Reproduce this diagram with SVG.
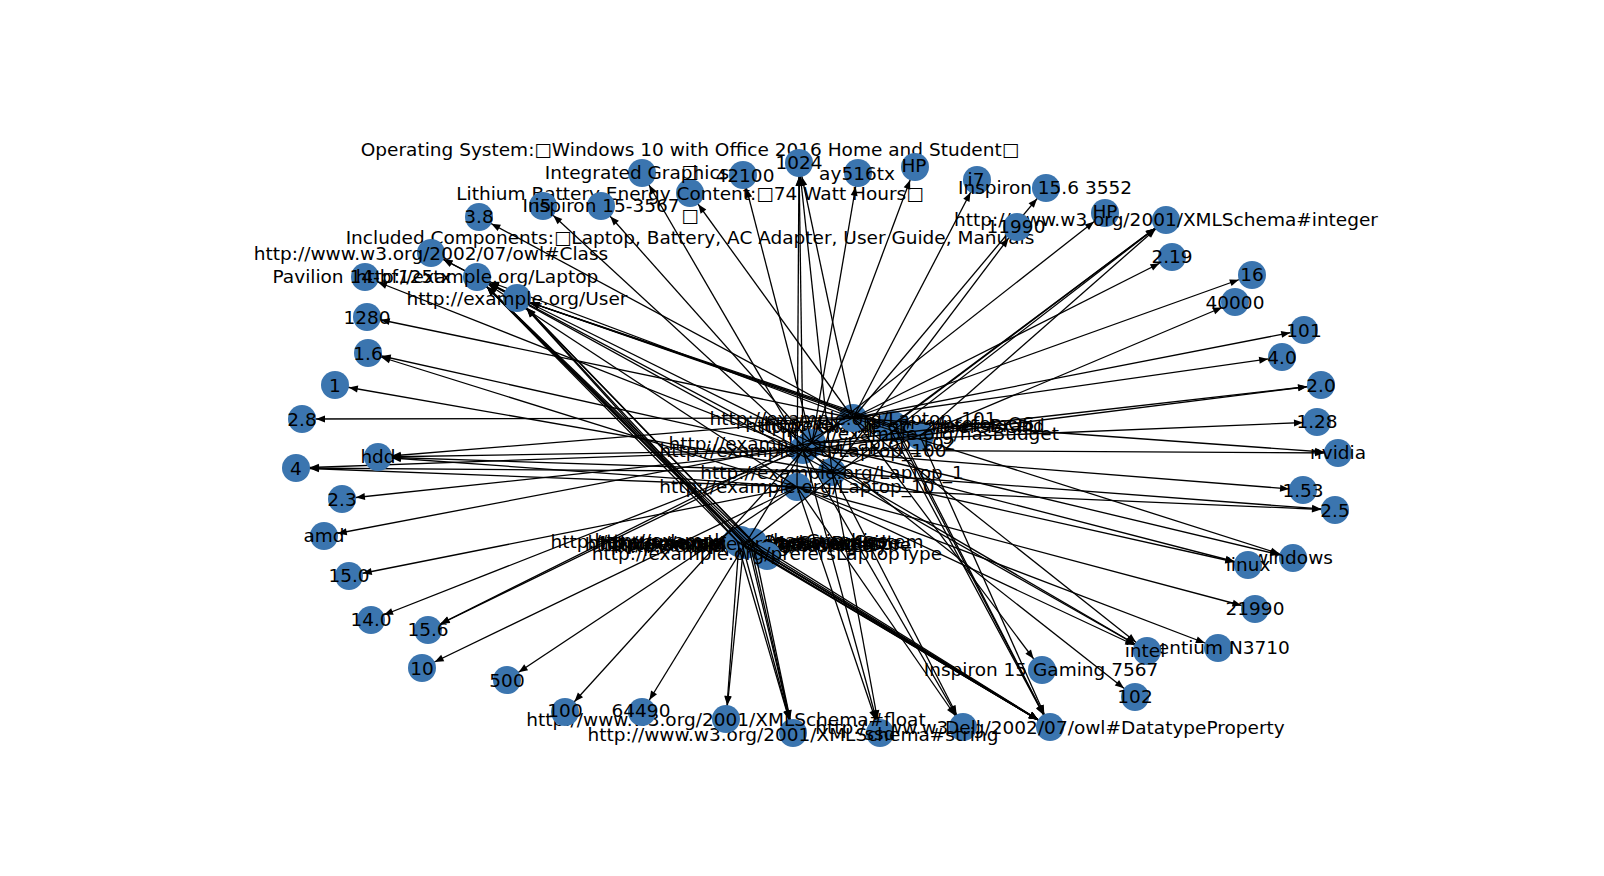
<svg xmlns="http://www.w3.org/2000/svg" xmlns:xlink="http://www.w3.org/1999/xlink" width="1604" height="876" viewBox="0 0 1604 876">
<style>
.n circle{fill:#3b75af}
text{font-family:"DejaVu Sans","Liberation Sans",sans-serif;font-size:18.5px;text-anchor:middle;dominant-baseline:central;fill:#000}
#edges line{stroke:#000;stroke-width:1.3;marker-end:url(#ah)}
</style>
<defs>
<marker id="ah" markerUnits="userSpaceOnUse" markerWidth="9" markerHeight="7" refX="23" refY="3.5" orient="auto" overflow="visible"><path d="M0,0 L9,3.5 L0,7 z" fill="#000"/></marker>
</defs>
<rect width="1604" height="876" fill="#fff"/>
<!-- hub nodes -->
<g id="hubs">
<g id="n_bc1" class="n"><circle cx="737" cy="541" r="14"/><text x="737" y="541">http://example.org/hasOperatingSystem</text></g>
<g id="n_bc2" class="n"><circle cx="750" cy="543" r="14"/><text x="750" y="543">http://example.org/hasProcessor</text></g>
<g id="n_bc3" class="n"><circle cx="744" cy="542" r="14"/><text x="744" y="542">http://example.org/hasScreenSize</text></g>
<g id="n_bc4" class="n"><circle cx="741" cy="540" r="14"/><text x="741" y="540">http://example.org/hasGraphics</text></g>
<g id="n_bc5" class="n"><circle cx="748" cy="544" r="14"/><text x="748" y="544">http://example.org/hasStorageType</text></g>
<g id="n_bc6" class="n"><circle cx="753" cy="542" r="14"/><text x="753" y="542">http://example.org/hasBrand</text></g>
<g id="n_bc7" class="n"><circle cx="745" cy="545" r="14"/><text x="745" y="545">http://example.org/hasPrice</text></g>
<g id="n_bc8" class="n"><circle cx="739" cy="543" r="14"/><text x="739" y="543">http://example.org/hasWeight</text></g>
<g id="n_plt" class="n"><circle cx="767" cy="556" r="14"/><text x="767" y="553">http://example.org/prefersLaptopType</text></g>
<g id="n_pta" class="n"><circle cx="893" cy="425" r="14"/><text x="899" y="423">http://example.org/prefersOS</text></g>
<g id="n_ptb" class="n"><circle cx="897" cy="428" r="14"/><text x="901" y="426">http://example.org/prefersCPU</text></g>
<g id="n_ptc" class="n"><circle cx="889" cy="427" r="14"/><text x="895" y="425">http://example.org/prefersBrand</text></g>
<g id="n_hb" class="n"><circle cx="920" cy="436" r="14"/><text x="920" y="433">http://example.org/hasBudget</text></g>
<g id="n_l101" class="n"><circle cx="853" cy="418" r="14"/><text x="853" y="418">http://example.org/Laptop_101</text></g>
<g id="n_l102" class="n"><circle cx="812" cy="443" r="14"/><text x="812" y="443">http://example.org/Laptop_102</text></g>
<g id="n_l100" class="n"><circle cx="803" cy="450" r="14"/><text x="803" y="450">http://example.org/Laptop_100</text></g>
<g id="n_l1" class="n"><circle cx="832" cy="472" r="14"/><text x="832" y="472">http://example.org/Laptop_1</text></g>
<g id="n_l10" class="n"><circle cx="797" cy="487" r="14"/><text x="797" y="486">http://example.org/Laptop_10</text></g>
</g>
<g id="edges">
<!-- Laptop_101 -->
<line x1="853" y1="418" x2="1304" y2="330"/>
<line x1="853" y1="418" x2="302" y2="419"/>
<line x1="853" y1="418" x2="367" y2="317"/>
<line x1="853" y1="418" x2="479" y2="217"/>
<line x1="853" y1="418" x2="799" y2="163"/>
<line x1="853" y1="418" x2="977" y2="180"/>
<line x1="853" y1="418" x2="1046" y2="188"/>
<line x1="853" y1="418" x2="1252" y2="275"/>
<line x1="853" y1="418" x2="1282" y2="357"/>
<line x1="853" y1="418" x2="1172" y2="257"/>
<line x1="853" y1="418" x2="378" y2="457"/>
<line x1="853" y1="418" x2="1338" y2="453"/>
<line x1="853" y1="418" x2="1293" y2="558"/>
<line x1="853" y1="418" x2="428" y2="630"/>
<line x1="853" y1="418" x2="690" y2="193"/>
<line x1="853" y1="418" x2="1147" y2="651"/>
<line x1="853" y1="418" x2="1042" y2="670"/>
<line x1="853" y1="418" x2="477" y2="277"/>
<!-- Laptop_102 -->
<line x1="812" y1="443" x2="1135" y2="697"/>
<line x1="812" y1="443" x2="858" y2="173"/>
<line x1="812" y1="443" x2="915" y2="167"/>
<line x1="812" y1="443" x2="743" y2="175"/>
<line x1="812" y1="443" x2="601" y2="206"/>
<line x1="812" y1="443" x2="324" y2="536"/>
<line x1="812" y1="443" x2="1317" y2="422"/>
<line x1="812" y1="443" x2="1321" y2="385"/>
<line x1="812" y1="443" x2="1293" y2="558"/>
<line x1="812" y1="443" x2="428" y2="630"/>
<line x1="812" y1="443" x2="477" y2="277"/>
<!-- Laptop_100 -->
<line x1="803" y1="450" x2="565" y2="712"/>
<line x1="803" y1="450" x2="642" y2="712"/>
<line x1="803" y1="450" x2="365" y2="277"/>
<line x1="803" y1="450" x2="1105" y2="213"/>
<line x1="803" y1="450" x2="642" y2="173"/>
<line x1="803" y1="450" x2="342" y2="499"/>
<line x1="803" y1="450" x2="296" y2="468"/>
<line x1="803" y1="450" x2="378" y2="457"/>
<line x1="803" y1="450" x2="368" y2="353"/>
<line x1="803" y1="450" x2="371" y2="620"/>
<line x1="803" y1="450" x2="1303" y2="490"/>
<line x1="803" y1="450" x2="1338" y2="453"/>
<line x1="803" y1="450" x2="1248" y2="565"/>
<line x1="803" y1="450" x2="1321" y2="385"/>
<line x1="803" y1="450" x2="963" y2="727"/>
<line x1="803" y1="450" x2="880" y2="733"/>
<line x1="803" y1="450" x2="1147" y2="651"/>
<line x1="803" y1="450" x2="799" y2="163"/>
<line x1="803" y1="450" x2="477" y2="277"/>
<!-- Laptop_1 -->
<line x1="832" y1="472" x2="335" y2="385"/>
<line x1="832" y1="472" x2="543" y2="206"/>
<line x1="832" y1="472" x2="1017" y2="227"/>
<line x1="832" y1="472" x2="1235" y2="302"/>
<line x1="832" y1="472" x2="296" y2="468"/>
<line x1="832" y1="472" x2="378" y2="457"/>
<line x1="832" y1="472" x2="1335" y2="510"/>
<line x1="832" y1="472" x2="1248" y2="565"/>
<line x1="832" y1="472" x2="963" y2="727"/>
<line x1="832" y1="472" x2="1147" y2="651"/>
<line x1="832" y1="472" x2="880" y2="733"/>
<line x1="832" y1="472" x2="799" y2="163"/>
<line x1="832" y1="472" x2="477" y2="277"/>
<!-- Laptop_10 -->
<line x1="797" y1="487" x2="422" y2="668"/>
<line x1="797" y1="487" x2="507" y2="680"/>
<line x1="797" y1="487" x2="349" y2="576"/>
<line x1="797" y1="487" x2="1218" y2="648"/>
<line x1="797" y1="487" x2="1255" y2="609"/>
<line x1="797" y1="487" x2="296" y2="468"/>
<line x1="797" y1="487" x2="378" y2="457"/>
<line x1="797" y1="487" x2="368" y2="353"/>
<line x1="797" y1="487" x2="1335" y2="510"/>
<line x1="797" y1="487" x2="963" y2="727"/>
<line x1="797" y1="487" x2="880" y2="733"/>
<line x1="797" y1="487" x2="1147" y2="651"/>
<line x1="797" y1="487" x2="799" y2="163"/>
<line x1="797" y1="487" x2="477" y2="277"/>
<!-- user properties -->
<line x1="893" y1="425" x2="517" y2="298"/>
<line x1="897" y1="428" x2="517" y2="298"/>
<line x1="889" y1="427" x2="517" y2="298"/>
<line x1="920" y1="436" x2="517" y2="298"/>
<line x1="893" y1="425" x2="1050" y2="727"/>
<line x1="897" y1="428" x2="1050" y2="727"/>
<line x1="889" y1="427" x2="1050" y2="727"/>
<line x1="920" y1="436" x2="1050" y2="727"/>
<line x1="920" y1="436" x2="1166" y2="220"/>
<line x1="893" y1="425" x2="1166" y2="220"/>
<line x1="889" y1="427" x2="1166" y2="220"/>
<!-- laptop properties -->
<line x1="737" y1="541" x2="477" y2="277"/>
<line x1="750" y1="543" x2="477" y2="277"/>
<line x1="744" y1="542" x2="477" y2="277"/>
<line x1="741" y1="540" x2="477" y2="277"/>
<line x1="748" y1="544" x2="477" y2="277"/>
<line x1="753" y1="542" x2="517" y2="298"/>
<line x1="745" y1="545" x2="517" y2="298"/>
<line x1="739" y1="543" x2="517" y2="298"/>
<line x1="737" y1="541" x2="1050" y2="727"/>
<line x1="750" y1="543" x2="1050" y2="727"/>
<line x1="744" y1="542" x2="1050" y2="727"/>
<line x1="741" y1="540" x2="1050" y2="727"/>
<line x1="748" y1="544" x2="1050" y2="727"/>
<line x1="753" y1="542" x2="1050" y2="727"/>
<line x1="745" y1="545" x2="1050" y2="727"/>
<line x1="739" y1="543" x2="1050" y2="727"/>
<line x1="737" y1="541" x2="793" y2="733"/>
<line x1="750" y1="543" x2="793" y2="733"/>
<line x1="741" y1="540" x2="793" y2="733"/>
<line x1="748" y1="544" x2="793" y2="733"/>
<line x1="753" y1="542" x2="793" y2="733"/>
<line x1="744" y1="542" x2="726" y2="719"/>
<line x1="739" y1="543" x2="726" y2="719"/>
<line x1="745" y1="545" x2="1166" y2="220"/>
<line x1="767" y1="556" x2="517" y2="298"/>
<line x1="767" y1="556" x2="477" y2="277"/>
<line x1="477" y1="277" x2="431" y2="253"/>
<line x1="517" y1="298" x2="431" y2="253"/>
</g>
<g id="nodes">
<g id="n_os" class="n"><circle cx="690" cy="193" r="14"/><text x="690"><tspan x="690" y="149">Operating System:□Windows 10 with Office 2016 Home and Student□</tspan><tspan x="690" y="171">□</tspan><tspan x="690" y="193">Lithium Battery Energy Content:□74 Watt Hours□</tspan><tspan x="690" y="215">□</tspan><tspan x="690" y="237">Included Components:□Laptop, Battery, AC Adapter, User Guide, Manuals</tspan></text></g>
<g id="n_ig" class="n"><circle cx="642" cy="173" r="14"/><text x="637" y="172">Integrated Graphics</text></g>
<g id="n_42100" class="n"><circle cx="743" cy="175" r="14"/><text x="745" y="175">42100</text></g>
<g id="n_1024" class="n"><circle cx="799" cy="163" r="14"/><text x="799" y="162">1024</text></g>
<g id="n_ay" class="n"><circle cx="858" cy="173" r="14"/><text x="857" y="173">ay516tx</text></g>
<g id="n_hp1" class="n"><circle cx="915" cy="167" r="14"/><text x="914" y="165">HP</text></g>
<g id="n_i7" class="n"><circle cx="977" cy="180" r="14"/><text x="976" y="179">i7</text></g>
<g id="n_insp156" class="n"><circle cx="1046" cy="188" r="14"/><text x="1045" y="187">Inspiron 15.6 3552</text></g>
<g id="n_hp2" class="n"><circle cx="1105" cy="213" r="14"/><text x="1105" y="211">HP</text></g>
<g id="n_int" class="n"><circle cx="1166" cy="220" r="14"/><text x="1166" y="219">http://www.w3.org/2001/XMLSchema#integer</text></g>
<g id="n_11990" class="n"><circle cx="1017" cy="227" r="14"/><text x="1016" y="226">11990</text></g>
<g id="n_219" class="n"><circle cx="1172" cy="257" r="14"/><text x="1172" y="256">2.19</text></g>
<g id="n_16" class="n"><circle cx="1252" cy="275" r="14"/><text x="1252" y="274">16</text></g>
<g id="n_40000" class="n"><circle cx="1235" cy="302" r="14"/><text x="1235" y="302">40000</text></g>
<g id="n_101" class="n"><circle cx="1304" cy="330" r="14"/><text x="1304" y="330">101</text></g>
<g id="n_40" class="n"><circle cx="1282" cy="357" r="14"/><text x="1282" y="357">4.0</text></g>
<g id="n_20" class="n"><circle cx="1321" cy="385" r="14"/><text x="1321" y="385">2.0</text></g>
<g id="n_128" class="n"><circle cx="1317" cy="422" r="14"/><text x="1317" y="421">1.28</text></g>
<g id="n_nvidia" class="n"><circle cx="1338" cy="453" r="14"/><text x="1338" y="452">nvidia</text></g>
<g id="n_153" class="n"><circle cx="1303" cy="490" r="14"/><text x="1303" y="490">1.53</text></g>
<g id="n_25" class="n"><circle cx="1335" cy="510" r="14"/><text x="1335" y="510">2.5</text></g>
<g id="n_windows" class="n"><circle cx="1293" cy="558" r="14"/><text x="1293" y="557">windows</text></g>
<g id="n_linux" class="n"><circle cx="1248" cy="565" r="14"/><text x="1248" y="564">linux</text></g>
<g id="n_21990" class="n"><circle cx="1255" cy="609" r="14"/><text x="1255" y="608">21990</text></g>
<g id="n_pentium" class="n"><circle cx="1218" cy="648" r="14"/><text x="1218" y="647">pentium N3710</text></g>
<g id="n_intel" class="n"><circle cx="1147" cy="651" r="14"/><text x="1145" y="650">intel</text></g>
<g id="n_102" class="n"><circle cx="1135" cy="697" r="14"/><text x="1135" y="696">102</text></g>
<g id="n_gaming" class="n"><circle cx="1042" cy="670" r="14"/><text x="1041" y="669">Inspiron 15 Gaming 7567</text></g>
<g id="n_dtp" class="n"><circle cx="1050" cy="727" r="14"/><text x="1050" y="727">http://www.w3.org/2002/07/owl#DatatypeProperty</text></g>
<g id="n_dell" class="n"><circle cx="963" cy="727" r="14"/><text x="963" y="727">Dell</text></g>
<g id="n_ssd" class="n"><circle cx="880" cy="733" r="14"/><text x="880" y="733">ssd</text></g>
<g id="n_string" class="n"><circle cx="793" cy="733" r="14"/><text x="793" y="734">http://www.w3.org/2001/XMLSchema#string</text></g>
<g id="n_float" class="n"><circle cx="726" cy="719" r="14"/><text x="726" y="719">http://www.w3.org/2001/XMLSchema#float</text></g>
<g id="n_64490" class="n"><circle cx="642" cy="712" r="14"/><text x="641" y="710">64490</text></g>
<g id="n_100" class="n"><circle cx="565" cy="712" r="14"/><text x="565" y="710">100</text></g>
<g id="n_500" class="n"><circle cx="507" cy="680" r="14"/><text x="507" y="680">500</text></g>
<g id="n_10" class="n"><circle cx="422" cy="668" r="14"/><text x="422" y="668">10</text></g>
<g id="n_156" class="n"><circle cx="428" cy="630" r="14"/><text x="428" y="629">15.6</text></g>
<g id="n_140" class="n"><circle cx="371" cy="620" r="14"/><text x="371" y="619">14.0</text></g>
<g id="n_150" class="n"><circle cx="349" cy="576" r="14"/><text x="349" y="575">15.0</text></g>
<g id="n_amd" class="n"><circle cx="324" cy="536" r="14"/><text x="324" y="535">amd</text></g>
<g id="n_23" class="n"><circle cx="342" cy="499" r="14"/><text x="342" y="499">2.3</text></g>
<g id="n_4" class="n"><circle cx="296" cy="468" r="14"/><text x="296" y="468">4</text></g>
<g id="n_hdd" class="n"><circle cx="378" cy="457" r="14"/><text x="378" y="456">hdd</text></g>
<g id="n_28" class="n"><circle cx="302" cy="419" r="14"/><text x="302" y="419">2.8</text></g>
<g id="n_1" class="n"><circle cx="335" cy="385" r="14"/><text x="335" y="385">1</text></g>
<g id="n_16b" class="n"><circle cx="368" cy="353" r="14"/><text x="368" y="353">1.6</text></g>
<g id="n_1280" class="n"><circle cx="367" cy="317" r="14"/><text x="367" y="317">1280</text></g>
<g id="n_pav" class="n"><circle cx="365" cy="277" r="14"/><text x="362" y="276">Pavilion 14-bf125tx</text></g>
<g id="n_laptop" class="n"><circle cx="477" cy="277" r="14"/><text x="477" y="276">http://example.org/Laptop</text></g>
<g id="n_user" class="n"><circle cx="517" cy="298" r="14"/><text x="517" y="298">http://example.org/User</text></g>
<g id="n_class" class="n"><circle cx="431" cy="253" r="14"/><text x="431" y="253">http://www.w3.org/2002/07/owl#Class</text></g>
<g id="n_38" class="n"><circle cx="479" cy="217" r="14"/><text x="479" y="216">3.8</text></g>
<g id="n_i5" class="n"><circle cx="543" cy="206" r="14"/><text x="543" y="205">i5</text></g>
<g id="n_insp3567" class="n"><circle cx="601" cy="206" r="14"/><text x="601" y="205">Inspiron 15-3567</text></g>
</g>
</svg>
